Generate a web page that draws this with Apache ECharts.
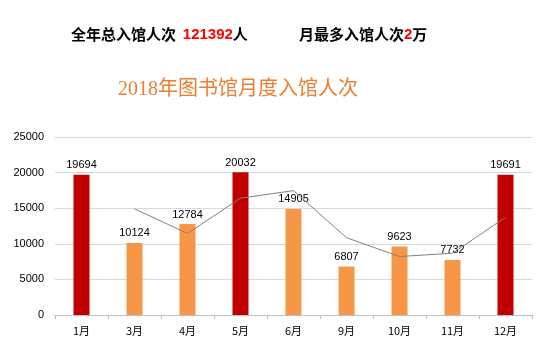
<!DOCTYPE html>
<html>
<head>
<meta charset="utf-8">
<script src="https://cdn.jsdelivr.net/npm/echarts@6/dist/echarts.min.js"></script>
<style>
  html, body { margin: 0; padding: 0; background: #fff; }
  #chart { width: 553px; height: 351px; }
</style>
</head>
<body>
<div id="chart"></div>
<script>
const months = ['1月', '3月', '4月', '5月', '6月', '9月', '10月', '11月', '12月']
const visitors = [19694, 10124, 12784, 20032, 14905, 6807, 9623, 7732, 19691]
// 2-period moving average trend
const trend = [null, 14909, 11454, 16408, 17468, 10856, 8215, 8677, 13711]
const peakMonths = ['1月', '5月', '12月']
const yTicks = [0, 5000, 10000, 15000, 20000, 25000]

const chart = echarts.init(document.getElementById('chart'))

const headRich = {
  b: { fontSize: 15, fontWeight: 'bold', color: '#000', fontFamily: 'Noto Sans CJK SC' },
  r: { fontSize: 15, fontWeight: 'bold', color: '#ff0000', fontFamily: 'Liberation Sans' }
}

const option = {
  animation: false,
  title: [
    {
      text: '{b|全年总入馆人次  }{r|121392}{b|人}',
      left: 66,
      top: 22,
      textStyle: { rich: headRich }
    },
    {
      text: '{b|月最多入馆人次}{r|2}{b|万}',
      left: 294,
      top: 22,
      textStyle: { rich: headRich }
    },
    {
      text: '2018年图书馆月度入馆人次',
      left: 113,
      top: 75,
      textStyle: {
        fontSize: 20,
        fontWeight: 'normal',
        color: '#ed7d31',
        fontFamily: '"Liberation Serif", "Noto Sans CJK SC"'
      }
    }
  ],
  grid: {
    left: 55,
    right: 21,
    top: 137,
    bottom: 36
  },
  xAxis: {
    type: 'category',
    data: months,
    axisLine: { lineStyle: { color: '#bfbfbf' } },
    axisTick: { show: true, length: 4, lineStyle: { color: '#bfbfbf' } },
    axisLabel: {
      color: '#000',
      fontSize: 11,
      margin: 10,
      fontFamily: 'Noto Sans CJK SC'
    }
  },
  yAxis: {
    type: 'value',
    min: yTicks[0],
    max: yTicks[yTicks.length - 1],
    interval: yTicks[1] - yTicks[0],
    axisLine: { show: false },
    axisTick: { show: false },
    axisLabel: {
      color: '#000',
      fontSize: 11,
      margin: 11,
      fontFamily: 'Liberation Sans',
      formatter: (v) => String(v)
    },
    splitLine: { lineStyle: { color: '#d9d9d9', width: 1 } }
  },
  series: [
    {
      type: 'bar',
      barWidth: 16,
      data: visitors.map((v, i) => ({
        value: v,
        itemStyle: { color: peakMonths.includes(months[i]) ? '#c00000' : '#f79646' }
      })),
      label: {
        show: true,
        position: 'top',
        distance: 4,
        color: '#000',
        fontSize: 11,
        fontFamily: 'Liberation Sans'
      }
    },
    {
      type: 'line',
      data: trend,
      symbol: 'none',
      connectNulls: false,
      lineStyle: { color: '#808080', width: 1 },
      z: 3
    }
  ]
}

chart.setOption(option)
</script>
</body>
</html>
